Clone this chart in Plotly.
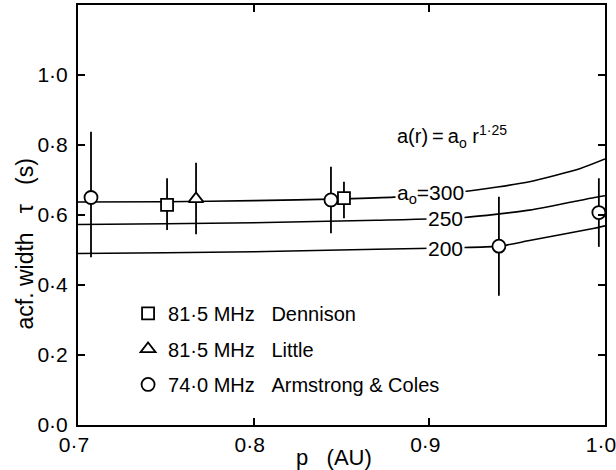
import plotly.graph_objects as go

# ---------------- data ----------------
# model curves a(r) = a0 r^1.25
p_300 = [0.70, 0.75, 0.80, 0.85, 0.88, 0.92, 0.957, 0.986, 1.0]
tau_300 = [0.637, 0.638, 0.641, 0.646, 0.651, 0.667, 0.695, 0.733, 0.760]
p_250 = [0.70, 0.75, 0.80, 0.87, 0.92, 0.957, 0.994, 1.0]
tau_250 = [0.573, 0.575, 0.578, 0.585, 0.593, 0.614, 0.650, 0.655]
p_200 = [0.70, 0.75, 0.80, 0.87, 0.92, 0.94, 0.957, 0.994, 1.0]
tau_200 = [0.490, 0.492, 0.495, 0.502, 0.507, 0.511, 0.527, 0.562, 0.569]

# observations
dennison_p = [0.7507, 0.8514]
dennison_tau = [0.629, 0.648]
dennison_hi = [0.705, 0.695]
dennison_lo = [0.557, 0.591]

little_p = [0.7672]
little_tau = [0.646]
little_hi = [0.749]
little_lo = [0.545]

armstrong_p = [0.7074, 0.844, 0.9396, 0.9965]
armstrong_tau = [0.650, 0.643, 0.511, 0.607]
armstrong_hi = [0.838, 0.738, 0.652, 0.705]
armstrong_lo = [0.479, 0.548, 0.369, 0.509]

x_ticks = [0.7, 0.8, 0.9, 1.0]
x_ticklabels = ["0·7", "0·8", "0·9", "1·0"]
y_ticks = [0.0, 0.2, 0.4, 0.6, 0.8, 1.0]
y_ticklabels = ["0·0", "0·2", "0·4", "0·6", "0·8", "1·0"]

curve_labels = ["a<sub>o</sub>=300", "250", "200"]

FONT = "Liberation Sans, Arial, sans-serif"
fig = go.Figure()

for px, py in [(p_300, tau_300), (p_250, tau_250), (p_200, tau_200)]:
    fig.add_trace(go.Scatter(x=px, y=py, mode="lines", showlegend=False,
                             line=dict(color="black", width=1.6, shape="spline", smoothing=0.6),
                             hoverinfo="skip"))


def obs(name, p, tau, hi, lo, symbol, size, group):
    fig.add_trace(go.Scatter(
        x=p, y=tau, mode="markers", name=name, legendgroup=group,
        marker=dict(symbol=symbol, size=size, color="white",
                    line=dict(color="black", width=1.8)),
        error_y=dict(type="data", symmetric=False,
                     array=[h - t for h, t in zip(hi, tau)],
                     arrayminus=[t - l for t, l in zip(tau, lo)],
                     color="black", thickness=1.8, width=0),
    ))


NB = "\u00a0"
obs("81·5 MHz" + NB * 3 + "Dennison", dennison_p, dennison_tau, dennison_hi, dennison_lo,
    "square", 12, "g1")
obs("81·5 MHz" + NB * 3 + "Little", little_p, little_tau, little_hi, little_lo,
    "triangle-up", 13, "g2")
obs("74·0 MHz" + NB * 3 + "Armstrong & Coles", armstrong_p, armstrong_tau, armstrong_hi,
    armstrong_lo, "circle", 13, "g3")

# curve labels (white background masks the curve behind the label)
label_y = [tau_300[4] + 0.008, 0.590, 0.503]
label_x = [0.9005, 0.909, 0.909]
for lx, ly, txt in zip(label_x, label_y, curve_labels):
    fig.add_annotation(x=lx, y=ly, text=txt, showarrow=False, bgcolor="white",
                       borderpad=1, xanchor="center", yanchor="middle",
                       font=dict(size=21, color="black", family=FONT))

fig.add_annotation(x=0.9129, y=0.825, text="a(r)\u2009=\u2009a<sub>o</sub> r<sup>1·25</sup>",
                   showarrow=False, xanchor="center", yanchor="middle",
                   font=dict(size=20, color="black", family=FONT))

# axis titles
fig.add_annotation(xref="paper", yref="paper", x=-0.1006, y=0.432, textangle=-90,
                   xanchor="center", yanchor="middle",
                   text="acf." + NB + "width" + NB * 3 + "τ" + NB * 3 + "(s)", showarrow=False,
                   font=dict(size=23, color="black", family=FONT))
fig.add_annotation(x=0.846, yref="paper", y=-0.078, text="p" + NB * 3 + "(AU)", showarrow=False,
                   xanchor="center", yanchor="middle",
                   font=dict(size=22, color="black", family=FONT))

axis_common = dict(showgrid=False, zeroline=False, showline=True, linecolor="black",
                   linewidth=2, mirror="ticks", ticks="inside", ticklen=7,
                   tickwidth=1.6, tickcolor="black", ticklabeloverflow="allow",
                   automargin=False,
                   tickfont=dict(size=21, color="black", family=FONT))

fig.update_xaxes(range=[0.7, 1.0], tickvals=x_ticks, ticktext=x_ticklabels,
                 ticklabelshift=-4, **axis_common)
fig.update_yaxes(range=[0.0, 1.2], tickvals=y_ticks, ticktext=y_ticklabels,
                 ticklabelstandoff=4, **axis_common)

fig.update_layout(
    width=616, height=470,
    margin=dict(l=78, r=11, t=5, b=45),
    paper_bgcolor="white", plot_bgcolor="white",
    font=dict(family=FONT, color="black"),
    showlegend=True,
    legend=dict(x=0.095, y=0.312, xanchor="left", yanchor="top",
                bgcolor="rgba(0,0,0,0)", borderwidth=0, tracegroupgap=6.5,
                font=dict(size=20, color="black", family=FONT)),
)

fig.write_html("out.html")
